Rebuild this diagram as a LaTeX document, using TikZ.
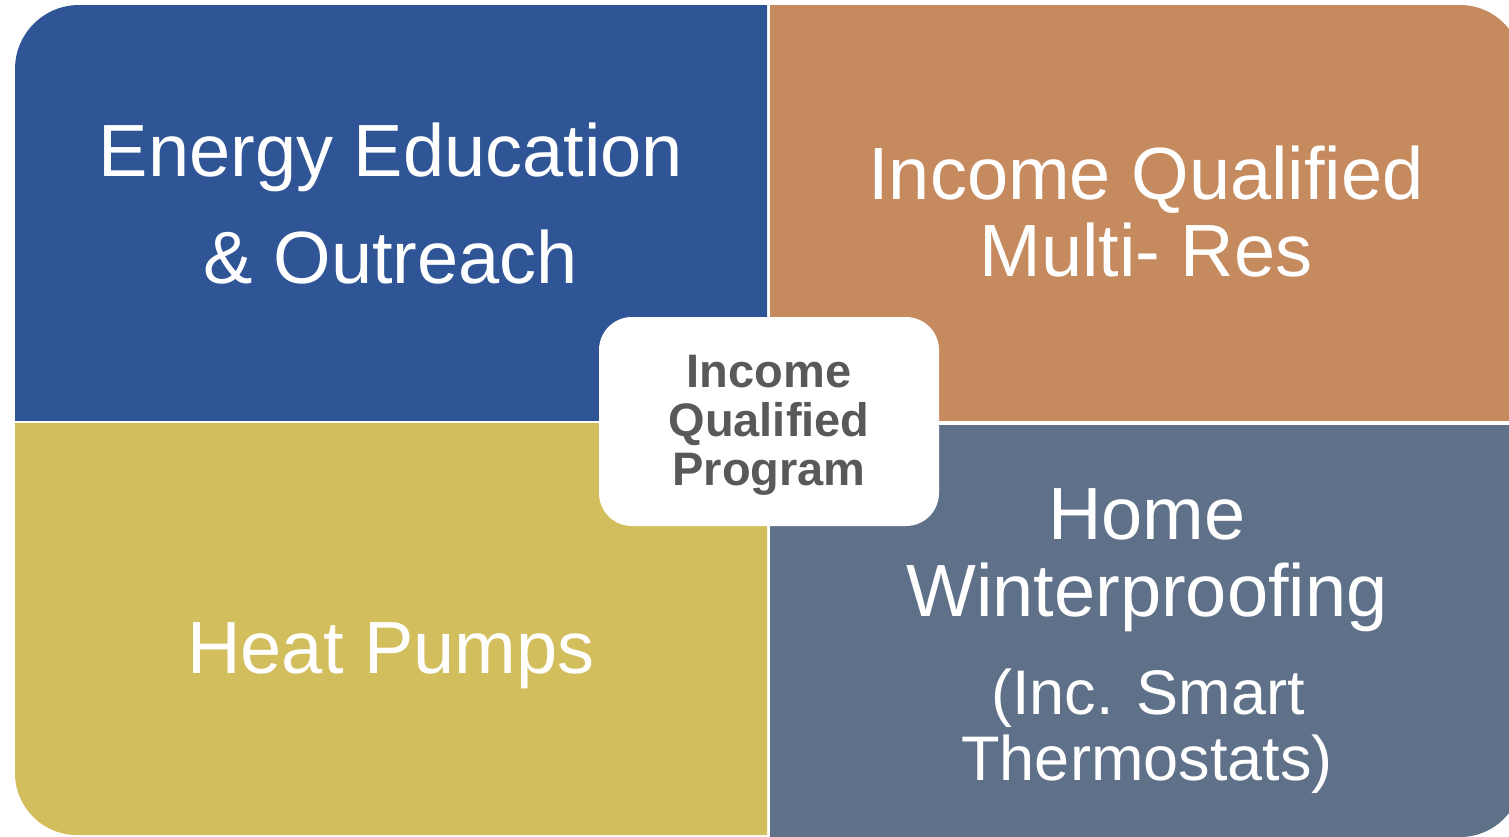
\documentclass[tikz,border=0pt]{standalone}
\usepackage{fontspec}
\setmainfont{Liberation Sans}
\definecolor{qblue}{HTML}{2F5597}
\definecolor{qorange}{HTML}{C68A5F}
\definecolor{qyellow}{HTML}{D3BE5D}
\definecolor{qslate}{HTML}{5F7089}
\definecolor{qgray}{HTML}{595959}
\begin{document}
\begin{tikzpicture}[x=1pt,y=-1pt,
  bigtxt/.style={text=white,anchor=base,inner sep=0pt,font=\fontsize{74}{80}\selectfont},
  midtxt/.style={text=white,anchor=base,inner sep=0pt,font=\fontsize{63}{68}\selectfont},
  centxt/.style={text=qgray,anchor=base,inner sep=0pt,font=\bfseries\fontsize{47}{50}\selectfont}]
\useasboundingbox (0,0) rectangle (1509,836);
% top-left
\begin{scope}
\clip (15,5) rectangle (767,420);
\fill[qblue,rounded corners=64pt] (15,5) rectangle (1100,800);
\end{scope}
% top-right
\begin{scope}
\clip (770,5) rectangle (1530,420);
\fill[qorange,rounded corners=62pt] (400,5) rectangle (1522,800);
\end{scope}
% bottom-left
\begin{scope}
\clip (15,423) rectangle (767,840);
\fill[qyellow,rounded corners=62pt] (15,0) rectangle (1100,835);
\end{scope}
% bottom-right
\begin{scope}
\clip (770,425) rectangle (1530,840);
\fill[qslate,rounded corners=62pt] (400,0) rectangle (1522,837);
\end{scope}
% center box
\node[fill=white,rounded corners=33pt,minimum width=340pt,minimum height=209pt,inner sep=0pt] (center) at (769,421.5) {};
% texts
\node[bigtxt] (tl1) at (391,176) {Energy Education};
\node[bigtxt] (tl2) at (391,283) {\& Outreach};
\node[bigtxt] (tr1) at (1146,199) {Income Qualified};
\node[bigtxt] (tr2) at (1146,276) {Multi- Res};
\node[bigtxt] (bl1) at (391,673) {Heat Pumps};
\node[bigtxt] (br1) at (1147,539) {Home};
\node[bigtxt] (br2) at (1147,616) {Winterproofing};
\node[midtxt] (br3) at (1148,714) {(Inc. Smart};
\node[midtxt] (br4) at (1147,780) {Thermostats)};
\node[centxt] (c1) at (769,387) {Income};
\node[centxt] (c2) at (769,436) {Qualified};
\node[centxt] (c3) at (769,485) {Program};
\end{tikzpicture}
\end{document}
